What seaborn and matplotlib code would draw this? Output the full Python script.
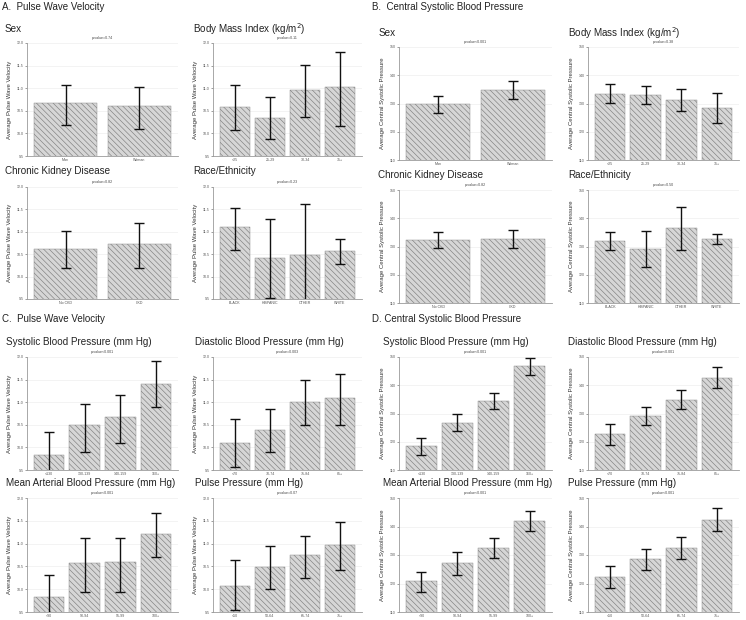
import numpy as np
import pandas as pd
import matplotlib
matplotlib.use("Agg")
import matplotlib.pyplot as plt
import seaborn as sns

# ---------------- data ----------------
SEX = ["Man", "Woman"]
BMI = ["<25", "25-29", "30-34", "35+"]
CKD = ["No CKD", "CKD"]
RACE = ["BLACK", "HISPANIC", "OTHER", "WHITE"]
SBP = ["<130", "130-139", "140-159", "160+"]
DBP = ["<70", "70-74", "75-84", "85+"]
MAP = ["<90", "90-94", "95-99", "100+"]
PP = ["<50", "50-64", "65-74", "75+"]

# Pulse wave velocity (panel A)
pwv_sex_mean = [10.67, 10.61]
pwv_sex_lo = [10.19, 10.09]
pwv_sex_hi = [11.07, 11.03]
pwv_bmi_mean = [10.58, 10.33, 10.96, 11.02]
pwv_bmi_lo = [10.08, 9.87, 10.37, 10.17]
pwv_bmi_hi = [11.06, 10.80, 11.51, 11.79]
pwv_ckd_mean = [10.61, 10.72]
pwv_ckd_lo = [10.19, 10.19]
pwv_ckd_hi = [11.02, 11.19]
pwv_race_mean = [11.10, 10.41, 10.48, 10.57]
pwv_race_lo = [10.59, 9.52, 9.40, 10.29]
pwv_race_hi = [11.54, 11.28, 11.61, 10.83]

# Central systolic pressure (panel B)
csp_sex_mean = [129.8, 134.7]
csp_sex_lo = [126.8, 131.5]
csp_sex_hi = [132.7, 137.9]
csp_bmi_mean = [133.5, 133.0, 131.1, 128.5]
csp_bmi_lo = [130.1, 129.8, 127.3, 123.2]
csp_bmi_hi = [136.8, 136.2, 135.1, 133.8]
csp_ckd_mean = [132.3, 132.8]
csp_ckd_lo = [129.5, 129.5]
csp_ckd_hi = [135.3, 136.0]
csp_race_mean = [132.0, 129.2, 136.5, 132.7]
csp_race_lo = [128.8, 122.8, 128.8, 130.8]
csp_race_hi = [135.1, 135.4, 144.1, 134.4]

# Pulse wave velocity (panel C)
pwv_sbp_mean = [9.83, 10.49, 10.67, 11.41]
pwv_sbp_lo = [9.30, 9.89, 10.09, 10.89]
pwv_sbp_hi = [10.35, 10.97, 11.17, 11.91]
pwv_dbp_mean = [10.09, 10.38, 11.00, 11.09]
pwv_dbp_lo = [9.56, 9.89, 10.50, 10.50]
pwv_dbp_hi = [10.63, 10.86, 11.49, 11.63]
pwv_map_mean = [9.83, 10.57, 10.60, 11.21]
pwv_map_lo = [9.35, 9.94, 9.94, 10.71]
pwv_map_hi = [10.31, 11.12, 11.12, 11.67]
pwv_pp_mean = [10.07, 10.49, 10.75, 10.97]
pwv_pp_lo = [9.54, 10.00, 10.25, 10.42]
pwv_pp_hi = [10.64, 10.95, 11.17, 11.47]

# Central systolic pressure (panel D)
csp_sbp_mean = [118.5, 126.8, 134.5, 146.7]
csp_sbp_lo = [115.2, 123.9, 131.5, 143.8]
csp_sbp_hi = [121.5, 129.7, 137.4, 149.6]
csp_dbp_mean = [122.7, 129.1, 134.8, 142.7]
csp_dbp_lo = [118.8, 125.9, 131.5, 139.1]
csp_dbp_hi = [126.3, 132.4, 138.2, 146.3]
csp_map_mean = [120.9, 127.2, 132.4, 141.9]
csp_map_lo = [117.0, 123.0, 128.9, 138.4]
csp_map_hi = [124.0, 131.0, 136.0, 145.4]
csp_pp_mean = [122.3, 128.6, 132.4, 142.3]
csp_pp_lo = [118.4, 124.7, 128.6, 138.4]
csp_pp_hi = [126.2, 132.1, 136.3, 146.5]

PWV_TICKS = [9.5, 10.0, 10.5, 11.0, 11.5, 12.0]
CSP_TICKS = [110, 120, 130, 140, 150]

# ---------------- styling ----------------
sns.set_theme(style="white")
plt.rcParams["font.family"] = ["Liberation Sans", "DejaVu Sans"]
plt.rcParams["hatch.linewidth"] = 0.45

W, H = 746, 620
fig = plt.figure(figsize=(W / 100, H / 100), dpi=100)


def add_ax(x0, y0, x1, y1):
    return fig.add_axes([x0 / W, 1 - y1 / H, (x1 - x0) / W, (y1 - y0) / H])


def panel(ax, cats, mean, lo, hi, ticks, ylabel, pval, title, tx, ty):
    df = pd.DataFrame({"cat": cats, "val": mean})
    sns.barplot(data=df, x="cat", y="val", ax=ax, color="#d6d6d6",
                width=0.86, errorbar=None, hatch="\\\\\\\\\\\\",
                edgecolor="#7e7e7e", linewidth=0.3, saturation=1)
    m = np.array(mean)
    ax.errorbar(np.arange(len(cats)), m,
                yerr=[m - np.array(lo), np.array(hi) - m],
                fmt="none", ecolor="#111111", elinewidth=1.0,
                capsize=3.5, capthick=1.0, zorder=5)
    ax.set_ylim(ticks[0], ticks[-1])
    ax.set_yticks(ticks)
    if ticks[0] < 50:
        ax.set_yticklabels([f"{t:.1f}" for t in ticks])
    else:
        ax.set_yticklabels([f"{t:d}" for t in ticks])
    ax.tick_params(axis="y", labelsize=2.6, length=1.5, width=0.4,
                   pad=1, colors="#555555", left=True)
    ax.tick_params(axis="x", labelsize=2.6, length=0, pad=1.5,
                   colors="#555555")
    ax.set_xlabel("")
    ax.set_ylabel(ylabel, fontsize=4.3, color="#333333", labelpad=3)
    ax.yaxis.grid(True, color="#eeeeee", linewidth=0.5)
    ax.set_axisbelow(True)
    for s in ["top", "right"]:
        ax.spines[s].set_visible(False)
    for s in ["left", "bottom"]:
        ax.spines[s].set_color("#9a9a9a")
        ax.spines[s].set_linewidth(0.6)
    ax.text(0.5, 1.025, pval, transform=ax.transAxes, ha="center",
            va="bottom", fontsize=2.6, color="#444444")
    fig.text(tx / W, 1 - ty / H, title, fontsize=7.1, ha="left",
             va="center", color="#222222")


PWV_LAB = "Average Pulse Wave Velocity"
CSP_LAB = "Average Central Systolic Pressure"

# column extents (pixels)
C0 = (27, 178)
C1 = (213, 362)
C2 = (399, 552)
C3 = (588, 739)

# section headers
fig.text(2 / W, 1 - 7 / H, "A.  Pulse Wave Velocity", fontsize=7.0,
         ha="left", va="center", color="#222222")
fig.text(372 / W, 1 - 7 / H, "B.  Central Systolic Blood Pressure",
         fontsize=7.0, ha="left", va="center", color="#222222")
fig.text(2 / W, 1 - 319 / H, "C.  Pulse Wave Velocity", fontsize=7.0,
         ha="left", va="center", color="#222222")
fig.text(372 / W, 1 - 319 / H, "D. Central Systolic Blood Pressure",
         fontsize=7.0, ha="left", va="center", color="#222222")

BMI_T = "Body Mass Index (kg/m$^{2}$)"

# Panel A
panel(add_ax(C0[0], 43, C0[1], 156), SEX, pwv_sex_mean, pwv_sex_lo,
      pwv_sex_hi, PWV_TICKS, PWV_LAB, "p-value=0.74", "Sex", 5, 29)
panel(add_ax(C1[0], 43, C1[1], 156), BMI, pwv_bmi_mean, pwv_bmi_lo,
      pwv_bmi_hi, PWV_TICKS, PWV_LAB, "p-value=0.11", BMI_T, 193, 29)
panel(add_ax(C0[0], 187, C0[1], 299), CKD, pwv_ckd_mean, pwv_ckd_lo,
      pwv_ckd_hi, PWV_TICKS, PWV_LAB, "p-value=0.82",
      "Chronic Kidney Disease", 5, 171)
panel(add_ax(C1[0], 187, C1[1], 299), RACE, pwv_race_mean, pwv_race_lo,
      pwv_race_hi, PWV_TICKS, PWV_LAB, "p-value=0.23", "Race/Ethnicity",
      193, 171)

# Panel B
panel(add_ax(C2[0], 47, C2[1], 160), SEX, csp_sex_mean, csp_sex_lo,
      csp_sex_hi, CSP_TICKS, CSP_LAB, "p-value<0.001", "Sex", 379, 33)
panel(add_ax(C3[0], 47, C3[1], 160), BMI, csp_bmi_mean, csp_bmi_lo,
      csp_bmi_hi, CSP_TICKS, CSP_LAB, "p-value=0.38", BMI_T, 568, 33)
panel(add_ax(C2[0], 190, C2[1], 303), CKD, csp_ckd_mean, csp_ckd_lo,
      csp_ckd_hi, CSP_TICKS, CSP_LAB, "p-value=0.82",
      "Chronic Kidney Disease", 378, 175)
panel(add_ax(C3[0], 190, C3[1], 303), RACE, csp_race_mean, csp_race_lo,
      csp_race_hi, CSP_TICKS, CSP_LAB, "p-value=0.50", "Race/Ethnicity",
      568, 175)

# Panel C
panel(add_ax(C0[0], 357, C0[1], 470), SBP, pwv_sbp_mean, pwv_sbp_lo,
      pwv_sbp_hi, PWV_TICKS, PWV_LAB, "p-value<0.001",
      "Systolic Blood Pressure (mm Hg)", 6, 342)
panel(add_ax(C1[0], 357, C1[1], 470), DBP, pwv_dbp_mean, pwv_dbp_lo,
      pwv_dbp_hi, PWV_TICKS, PWV_LAB, "p-value=0.003",
      "Diastolic Blood Pressure (mm Hg)", 195, 342)
panel(add_ax(C0[0], 498, C0[1], 612), MAP, pwv_map_mean, pwv_map_lo,
      pwv_map_hi, PWV_TICKS, PWV_LAB, "p-value<0.001",
      "Mean Arterial Blood Pressure (mm Hg)", 6, 483)
panel(add_ax(C1[0], 498, C1[1], 612), PP, pwv_pp_mean, pwv_pp_lo,
      pwv_pp_hi, PWV_TICKS, PWV_LAB, "p-value=0.07",
      "Pulse Pressure (mm Hg)", 195, 483)

# Panel D
panel(add_ax(C2[0], 357, C2[1], 470), SBP, csp_sbp_mean, csp_sbp_lo,
      csp_sbp_hi, CSP_TICKS, CSP_LAB, "p-value<0.001",
      "Systolic Blood Pressure (mm Hg)", 383, 342)
panel(add_ax(C3[0], 357, C3[1], 470), DBP, csp_dbp_mean, csp_dbp_lo,
      csp_dbp_hi, CSP_TICKS, CSP_LAB, "p-value<0.001",
      "Diastolic Blood Pressure (mm Hg)", 568, 342)
panel(add_ax(C2[0], 498, C2[1], 612), MAP, csp_map_mean, csp_map_lo,
      csp_map_hi, CSP_TICKS, CSP_LAB, "p-value<0.001",
      "Mean Arterial Blood Pressure (mm Hg)", 383, 483)
panel(add_ax(C3[0], 498, C3[1], 612), PP, csp_pp_mean, csp_pp_lo,
      csp_pp_hi, CSP_TICKS, CSP_LAB, "p-value<0.001",
      "Pulse Pressure (mm Hg)", 568, 483)

fig.savefig("out.png", dpi=100, facecolor="white")
